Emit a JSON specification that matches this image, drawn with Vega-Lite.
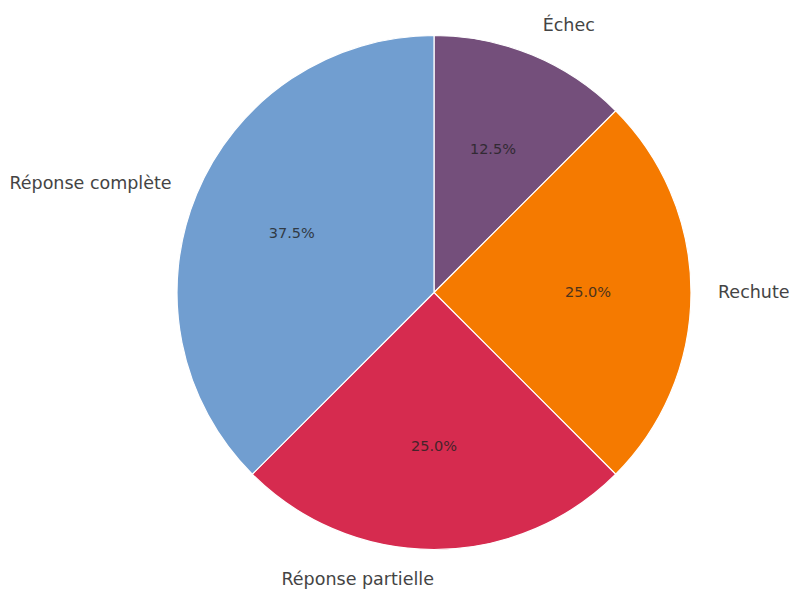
{
  "$schema": "https://vega.github.io/schema/vega-lite/v6.json",
  "width": 754,
  "height": 585,
  "padding": {"left": 57, "top": 0, "right": 0, "bottom": 4},
  "autosize": {"type": "none"},
  "background": "white",
  "view": {"stroke": null},
  "data": {
    "values": [
      {"ordre": 1, "categorie": "Échec", "part": 0.125},
      {"ordre": 2, "categorie": "Rechute", "part": 0.25},
      {"ordre": 3, "categorie": "Réponse partielle", "part": 0.25},
      {"ordre": 4, "categorie": "Réponse complète", "part": 0.375}
    ]
  },
  "encoding": {
    "theta": {"field": "part", "type": "quantitative", "stack": true},
    "order": {"field": "ordre", "type": "ordinal"},
    "color": {
      "field": "categorie",
      "type": "nominal",
      "legend": null,
      "scale": {
        "domain": ["Échec", "Rechute", "Réponse partielle", "Réponse complète"],
        "range": ["#744F7B", "#F57A00", "#D62B4F", "#719ED0"]
      }
    }
  },
  "layer": [
    {
      "mark": {"type": "arc", "outerRadius": 257, "stroke": "white", "strokeWidth": 1.2}
    },
    {
      "mark": {
        "type": "text",
        "radius": 154,
        "font": "DejaVu Sans",
        "fontSize": 14.5,
        "opacity": 0.8,
        "align": "center",
        "baseline": "middle"
      },
      "encoding": {
        "text": {"field": "part", "type": "quantitative", "format": ".1%"},
        "color": {"value": "#222222"}
      }
    },
    {
      "mark": {
        "type": "text",
        "radius": 284,
        "font": "DejaVu Sans",
        "fontSize": 17.5,
        "align": {"expr": "datum.categorie === 'Échec' || datum.categorie === 'Rechute' ? 'left' : 'right'"},
        "dy": {"expr": "datum.categorie === 'Échec' ? -4 : datum.categorie === 'Réponse partielle' ? 3 : 0"},
        "baseline": "middle"
      },
      "encoding": {
        "text": {"field": "categorie", "type": "nominal"},
        "color": {"value": "#444444"}
      }
    }
  ]
}
